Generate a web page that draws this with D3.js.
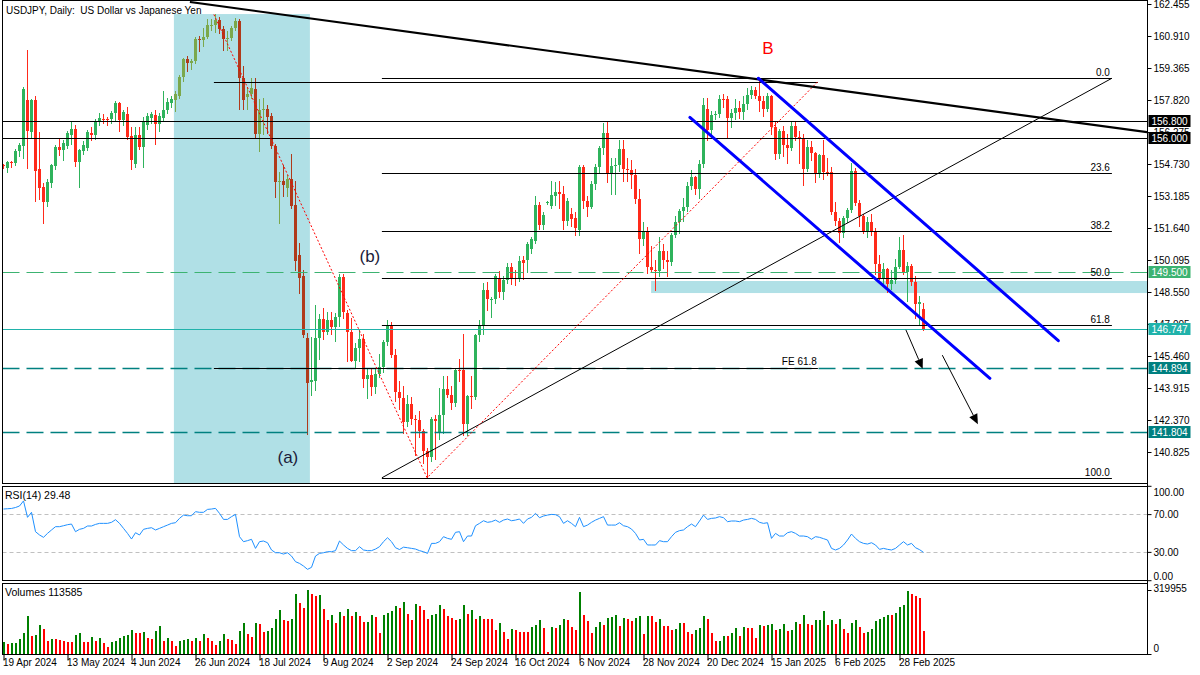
<!DOCTYPE html>
<html>
<head>
<meta charset="utf-8">
<script src="https://cdn.jsdelivr.net/npm/d3@7"></script>
<style>
  html, body { margin: 0; padding: 0; background: #fff; }
  svg { display: block; font-family: "Liberation Sans", Arial, sans-serif; }
  .pre { white-space: pre; }
</style>
</head>
<body>
<svg id="chart" width="1200" height="675"></svg>
<script>
// ---- data (daily bars, index 0 = 19 Apr 2024) ----
const opens = [
  154.66,154.52,154.84,154.79,155.35,155.62,157.82,156.29,157.82,154.49,
  153.64,152.91,153.83,154.65,155.53,155.40,155.60,156.13,156.42,154.84,
  155.37,155.52,156.24,156.13,156.79,156.90,156.92,156.89,157.18,157.67,
  156.85,157.14,156.10,154.75,156.11,155.57,156.60,156.95,157.10,156.66,
  156.95,157.33,157.68,157.83,158.03,158.95,159.78,159.60,159.70,160.75,
  160.70,160.85,161.45,161.45,161.70,161.25,160.75,160.80,161.30,161.65,
  158.90,157.95,158.10,158.35,156.18,157.35,157.37,157.05,155.60,153.87,
  153.92,153.55,154.00,152.75,150.33,149.30,146.35,144.20,144.25,146.35,
  147.25,146.60,147.20,146.85,147.35,149.29,147.55,146.60,145.20,145.85,
  146.30,144.35,144.55,143.95,144.60,144.95,146.15,146.90,145.50,143.70,
  143.45,142.25,143.15,142.40,142.35,141.85,140.85,140.60,142.40,141.80,
  142.60,143.85,143.60,143.20,144.80,144.78,142.20,143.55,143.50,146.45,
  146.90,148.65,148.20,148.20,149.25,148.55,149.15,149.75,149.25,149.25,
  150.10,150.09,150.65,151.00,152.75,151.78,152.88,152.72,153.20,153.36,
  153.30,152.00,152.30,152.12,151.54,154.60,152.95,152.65,153.75,154.60,
  155.50,156.25,154.30,154.65,154.70,155.45,154.50,154.45,154.20,153.05,
  151.10,151.50,149.75,149.60,149.55,150.55,150.10,150.00,151.30,151.95,
  152.45,152.65,153.65,154.10,153.50,154.75,157.40,156.35,157.10,157.15,
  157.85,157.85,156.95,157.20,157.45,157.25,157.65,158.05,158.30,158.00,
  157.75,157.40,158.00,156.50,155.20,156.30,155.65,155.50,156.55,156.05,
  156.00,154.50,155.55,155.25,154.30,155.15,154.35,154.32,152.40,152.00,
  151.40,152.10,152.50,154.40,152.85,152.20,151.45,151.95,151.45,149.90,
  149.25,149.65,148.95,149.15,149.75,150.60,149.50,149.80,149.05,147.95,
  147.75
];
const highs = [
  154.72,154.87,154.88,155.45,155.74,158.45,160.21,157.87,158.00,156.27,
  153.80,154.00,154.75,155.65,155.95,155.90,156.30,156.79,156.60,155.45,
  155.85,156.35,156.50,156.90,157.20,157.15,157.00,157.30,157.75,157.72,
  157.35,157.50,156.50,156.50,156.50,157.00,157.20,157.25,157.35,157.20,
  158.25,157.90,158.00,158.25,159.05,159.85,159.95,159.80,160.87,160.90,
  161.30,161.72,161.75,161.95,161.85,161.40,161.15,161.40,161.80,161.75,
  159.45,158.45,158.87,158.90,157.85,157.90,157.60,157.20,155.70,154.35,
  154.70,154.20,155.20,153.92,150.90,149.60,146.55,146.40,147.90,147.50,
  147.80,147.60,147.60,147.55,149.40,149.40,147.70,147.30,146.10,146.70,
  146.50,144.90,144.90,144.90,145.55,146.25,147.20,147.10,145.80,144.25,
  144.00,143.60,143.50,142.60,142.80,141.95,141.00,142.50,142.60,143.90,
  144.50,144.50,144.00,144.85,145.30,146.50,143.60,144.50,146.50,147.20,
  149.00,149.05,148.30,149.40,149.55,149.30,149.95,149.95,149.60,150.30,
  150.30,150.95,151.20,153.20,152.90,152.40,152.95,153.90,153.85,153.90,
  153.65,153.10,152.60,152.40,154.70,154.70,153.20,153.90,154.75,155.60,
  156.70,156.75,155.00,155.00,155.90,155.90,155.00,154.90,154.50,153.50,
  151.95,151.70,150.75,150.10,151.20,150.85,150.55,151.40,152.20,152.55,
  153.10,153.85,154.45,154.15,154.90,157.93,157.90,157.30,157.30,158.05,
  158.10,158.00,157.40,157.85,157.75,158.00,158.40,158.50,158.45,158.87,
  158.00,158.15,158.05,156.75,156.40,156.55,156.20,156.75,156.80,156.30,
  156.20,155.90,155.85,155.30,155.20,155.90,155.00,154.60,152.90,152.10,
  152.20,152.60,154.80,154.55,153.00,152.30,152.15,152.30,151.65,150.35,
  149.95,149.70,149.60,150.15,151.20,151.30,150.00,149.90,149.30,148.35,
  148.00
];
const lows = [
  154.55,154.36,154.60,154.70,155.10,155.00,154.53,156.05,152.96,153.05,
  151.86,152.72,153.60,154.50,155.15,154.90,155.50,155.70,154.63,153.60,
  155.20,155.40,155.90,155.95,156.60,156.70,156.60,156.70,156.85,156.34,
  156.60,155.95,154.50,154.60,155.45,154.60,156.40,156.70,155.70,156.30,
  156.85,157.20,157.50,157.30,157.90,158.75,159.20,159.30,159.60,160.20,
  160.45,160.80,161.20,161.10,161.05,160.25,160.25,160.70,161.20,157.40,
  157.40,157.40,157.90,156.00,155.37,156.20,156.24,155.50,153.12,151.90,
  153.20,153.20,152.60,149.60,148.50,146.40,141.68,143.60,143.80,145.30,
  146.30,146.50,146.50,146.20,146.90,147.30,145.20,145.20,144.95,145.20,
  143.95,143.45,143.60,143.65,144.45,144.70,146.00,145.40,143.30,142.90,
  141.75,142.10,142.20,140.70,141.55,140.30,139.58,140.40,140.47,141.45,
  141.75,143.50,142.90,143.05,144.25,141.65,141.65,142.95,143.40,146.20,
  146.50,147.70,147.35,148.00,148.30,148.20,149.00,148.95,148.90,149.10,
  149.20,149.50,150.45,150.90,151.60,151.60,152.80,152.60,152.75,152.60,
  151.60,151.80,151.75,151.30,151.30,152.60,152.20,152.60,153.50,154.30,
  155.20,153.85,153.30,153.30,154.40,153.90,153.90,153.55,152.85,150.45,
  150.80,149.45,149.50,148.65,149.30,149.70,149.30,149.85,151.20,151.40,
  152.00,152.45,153.50,153.30,153.10,154.60,155.90,156.10,156.90,157.00,
  157.50,156.00,156.50,156.90,156.95,156.90,157.40,157.90,157.90,157.30,
  157.05,157.30,156.20,154.95,155.00,155.10,154.80,155.40,155.90,154.80,
  153.70,154.40,154.90,153.85,154.10,154.00,154.20,152.30,151.80,150.95,
  151.20,151.95,152.40,152.75,151.75,151.40,151.20,151.30,149.40,149.20,
  149.00,148.55,148.70,149.00,149.70,149.40,148.10,148.90,147.30,146.95,
  146.70
];
const closes = [
  154.62,154.81,154.80,155.37,155.64,158.33,156.34,157.82,154.41,153.59,
  152.90,153.85,154.67,155.53,155.40,155.73,156.23,156.42,154.84,155.40,
  155.65,156.29,156.14,156.80,156.95,156.84,156.86,157.19,157.69,156.85,
  157.25,156.02,154.90,156.11,155.57,156.76,157.05,157.14,156.66,157.05,
  157.33,157.73,157.87,158.11,158.93,159.78,159.60,159.70,160.75,160.70,
  160.85,161.45,161.45,161.70,161.25,160.75,160.80,161.30,161.65,158.90,
  157.82,158.10,158.38,156.18,157.34,157.40,157.00,155.60,153.87,153.92,
  153.72,154.02,152.70,150.05,149.22,146.45,144.17,144.30,146.35,147.25,
  146.60,147.20,146.85,147.35,149.29,147.60,146.60,145.20,145.85,146.30,
  144.35,144.55,143.95,144.60,144.95,146.15,146.90,145.50,143.70,143.45,
  142.25,143.15,142.40,142.35,141.85,140.85,140.60,142.40,142.30,142.60,
  143.85,143.60,143.20,144.80,144.78,142.20,143.55,143.50,146.45,146.95,
  148.65,148.20,148.22,149.30,148.55,149.15,149.75,149.25,149.20,150.05,
  149.95,150.86,151.10,152.75,151.78,152.27,152.90,153.23,153.36,153.30,
  152.00,152.94,152.06,151.64,154.60,152.95,152.65,153.75,154.60,155.50,
  156.25,154.30,154.65,154.70,155.45,154.50,154.45,154.20,153.05,151.10,
  151.50,149.75,149.60,149.55,150.55,150.10,150.00,151.30,151.95,152.45,
  152.65,153.65,154.10,153.50,154.75,157.60,156.35,157.10,157.15,157.85,
  157.80,156.95,157.20,157.45,157.25,157.65,158.05,158.30,158.00,157.75,
  157.40,158.00,156.50,155.20,156.30,155.65,155.50,156.55,156.05,156.00,
  154.50,155.55,155.25,154.30,155.15,154.35,154.32,152.40,152.00,151.40,
  152.10,152.50,154.40,152.85,152.20,151.45,151.95,151.45,149.90,149.25,
  149.65,148.95,149.15,149.75,150.60,149.50,149.80,149.05,147.95,148.05,
  146.75
];
const rsiValues = [
  75.4,75.7,76.0,77.0,78.6,84.0,66.6,71.9,51.4,47.9,
  45.4,49.6,53.2,56.7,56.7,57.7,58.8,59.5,51.4,53.9,
  54.9,57.4,57.4,59.1,60.2,60.2,60.2,61.3,64.1,60.2,
  54.9,49.6,43.6,50.3,47.9,53.9,54.9,55.6,53.2,54.9,
  56.7,58.4,60.2,60.9,65.5,69.0,68.3,68.3,72.6,71.9,
  71.9,75.0,75.4,76.1,70.8,64.4,64.4,67.3,69.7,46.1,
  40.8,41.9,43.3,33.7,40.8,41.5,39.7,32.0,29.1,29.1,
  27.7,29.1,25.6,19.6,17.8,15.0,11.5,13.6,25.6,28.4,
  29.1,30.2,30.2,31.3,41.5,37.3,33.7,31.3,31.3,35.5,
  32.0,31.3,31.3,33.0,35.5,40.8,45.0,40.8,34.4,32.5,
  35.0,34.4,33.7,33.0,31.3,30.2,28.4,39.0,39.0,40.8,
  46.1,44.3,43.3,50.7,51.4,40.8,46.8,46.8,57.7,60.2,
  63.0,61.3,62.0,63.7,61.3,63.7,64.8,63.0,63.7,64.8,
  60.2,64.8,66.6,70.8,66.2,68.0,69.0,69.7,69.4,67.3,
  60.2,63.0,60.2,56.7,66.6,56.7,58.4,61.3,63.7,65.5,
  67.3,58.4,58.4,58.4,60.9,57.7,56.7,54.2,49.6,42.6,
  43.3,37.3,37.3,37.3,41.9,40.8,40.8,46.1,50.7,52.5,
  53.2,56.7,59.5,56.7,62.7,69.0,64.4,65.5,65.9,67.3,
  66.2,62.0,62.7,62.7,62.0,63.7,64.4,65.5,64.4,61.3,
  60.2,60.9,44.3,49.6,46.8,46.8,50.3,51.4,49.6,46.8,
  46.8,46.1,43.3,46.1,45.4,44.0,42.6,33.7,32.0,33.7,
  37.3,42.6,48.9,44.3,40.8,39.0,38.3,39.7,37.3,32.7,
  33.7,32.7,32.0,33.7,37.3,40.8,37.3,39.0,34.4,32.4,
  29.48
];
const volumes = [
  60000,52000,55000,55500,73000,104000,189000,90000,93000,145000,
  124000,67000,76000,73000,72000,67000,59000,58000,93000,104000,
  62000,59000,85000,64000,80000,54000,33000,59000,64000,81000,
  90000,93000,121000,104000,103000,111000,78000,73000,114000,142000,
  67000,78000,67000,38000,67000,68000,76000,66000,80000,67000,
  98000,78000,67000,46000,67000,98000,76000,70000,51000,114000,
  156000,99000,85000,154000,150000,111000,116000,129000,176000,218000,
  168000,163000,176000,302000,254000,232000,319955,302000,290000,293000,
  226000,171000,193000,155000,209000,188000,226000,188000,209000,188000,
  160000,162000,193000,186000,105000,193000,207000,214000,240000,230000,
  259000,202000,171000,248000,240000,218000,176000,197000,202000,245000,
  225000,190000,180000,171000,173000,245000,202000,219000,176000,188000,
  176000,176000,173000,121000,156000,111000,73000,124000,119000,111000,
  111000,111000,137000,147000,168000,129000,8000,137000,129000,145000,
  176000,168000,133000,119000,312000,197000,164000,104000,137000,159000,
  147000,181000,183000,197000,142000,180000,173000,164000,181000,188000,
  99000,190000,188000,159000,173000,142000,140000,121000,124000,154000,
  153000,112000,99000,119000,129000,188000,173000,107000,64000,65000,
  90000,89000,107000,128000,90000,137000,130000,129000,81000,145000,
  142000,143000,150000,121000,124000,150000,116000,119000,159000,150000,
  193000,150000,145000,168000,171000,214000,147000,171000,150000,176000,
  124000,107000,156000,168000,137000,104000,111000,124000,163000,176000,
  185000,197000,193000,207000,236000,245000,314000,302000,292000,280000,
  113585
];
const dateLabels = ["19 Apr 2024","13 May 2024","4 Jun 2024","26 Jun 2024","18 Jul 2024","9 Aug 2024",
  "2 Sep 2024","24 Sep 2024","16 Oct 2024","6 Nov 2024","28 Nov 2024","20 Dec 2024",
  "15 Jan 2025","6 Feb 2025","28 Feb 2025"];
const barsPerLabel = 16;
const priceTicks = [162.455,160.910,159.365,157.820,156.275,154.730,153.185,151.640,150.095,
  148.550,147.005,145.460,143.915,142.370,140.825];
const rsiTicks = [100, 70, 30, 0];
const rsiLevels = [70, 30];

// levels and drawn objects, in bar index / price terms
const supportResist = [156.800, 156.000];
const keyLevel = 149.500;
const lastPrice = 146.747;
const targets = [144.894, 141.804];
const fibAnchors = [[94.6, 139.58], [277.1, 158.87]];      // 100% -> 0%
const fibLevels = [0, 23.6, 38.2, 50.0, 61.8, 100];
const fePoints = [[52.6, 161.95], [105.9, 139.58], [203.6, 158.71]];
const feLevels = [0, 61.8];
const mainTrend = [[46.6, 162.55], [285.9, 156.27]];
const channelUpper = [[188.7, 158.87], [263.7, 146.20]];
const channelLower = [[171.6, 156.98], [246.6, 144.38]];
const shadeBars = [42.6, 76.6];
const shadeTop = 161.97;
const zoneBars = [161.9, 290];
const zonePrices = [149.08, 148.50];
const arrows = [[[225.6, 146.72], [229.8, 144.84]], [[234.7, 145.50], [243.6, 142.17]]];
const waveLabels = [["B", 191.1, 160.33], ["(b)", 91.6, 150.28], ["(a)", 71.1, 140.58]];

// ---- layout ----
const plotL = 2.5, plotR = 1147.5;
const main = {top: 0.5, bottom: 483.5};
const rsiP = {top: 486.5, bottom: 580.5};
const volP = {top: 583.5, bottom: 654.5};

const x = d3.scaleLinear().domain([0, 1]).range([3.5, 7.5]);
const y = d3.scaleLinear().domain([140.825, 162.455]).range([452, 4]);
const yR = d3.scaleLinear().domain([0, 100]).range([580.2, 485.8]);
const yV = d3.scaleLinear().domain([0, 319955]).range([654, 590]);
const crisp = v => Math.round(v) + 0.5;

const svg = d3.select("#chart");
const defs = svg.append("defs");
defs.append("clipPath").attr("id", "clipMain").append("rect")
  .attr("x", 3).attr("y", 1).attr("width", plotR - 3.5).attr("height", main.bottom - 1.5);
defs.append("clipPath").attr("id", "clipRsi").append("rect")
  .attr("x", 3).attr("y", rsiP.top + 0.5).attr("width", plotR - 3.5).attr("height", rsiP.bottom - rsiP.top - 1);

const gMain = svg.append("g").attr("clip-path", "url(#clipMain)");

// shaded rectangle + zone (background)
gMain.append("rect")
  .attr("x", x(shadeBars[0])).attr("width", x(shadeBars[1]) - x(shadeBars[0]))
  .attr("y", y(shadeTop)).attr("height", main.bottom - y(shadeTop))
  .attr("fill", "#b0e0e6");
gMain.append("rect")
  .attr("x", x(zoneBars[0])).attr("width", x(zoneBars[1]) - x(zoneBars[0]))
  .attr("y", y(zonePrices[0])).attr("height", y(zonePrices[1]) - y(zonePrices[0]))
  .attr("fill", "#b0e0e6");

// candles
const inShade = i => x(i) >= x(shadeBars[0]) && x(i) <= x(shadeBars[1]);
const candles = gMain.append("g").attr("shape-rendering", "crispEdges");
closes.forEach((c, i) => {
  const o = opens[i], up = c >= o;
  const col = inShade(i) ? (up ? "#7ba84c" : "#b03a1b") : (up ? "#2fb35c" : "#ff2a1a");
  const cx = x(i);
  candles.append("line")
    .attr("x1", cx).attr("x2", cx)
    .attr("y1", Math.round(y(highs[i]))).attr("y2", Math.round(y(lows[i])) + 1)
    .attr("stroke", col).attr("stroke-width", 1);
  const yt = Math.round(y(Math.max(o, c))), yb = Math.round(y(Math.min(o, c)));
  candles.append("rect")
    .attr("x", cx - 1.5).attr("width", 3)
    .attr("y", yt).attr("height", Math.max(1, yb - yt))
    .attr("fill", col);
});

// horizontal levels
supportResist.forEach(p => {
  gMain.append("line").attr("x1", plotL).attr("x2", plotR)
    .attr("y1", crisp(y(p))).attr("y2", crisp(y(p)))
    .attr("stroke", "#000").attr("stroke-width", 1);
});
gMain.append("line").attr("x1", plotL).attr("x2", plotR)
  .attr("y1", crisp(y(keyLevel))).attr("y2", crisp(y(keyLevel)))
  .attr("stroke", "#3cb371").attr("stroke-dasharray", "17,7");
gMain.append("line").attr("x1", plotL).attr("x2", plotR)
  .attr("y1", crisp(y(lastPrice))).attr("y2", crisp(y(lastPrice)))
  .attr("stroke", "#20b2aa");
targets.forEach(p => {
  gMain.append("line").attr("x1", plotL).attr("x2", plotR)
    .attr("y1", crisp(y(p))).attr("y2", crisp(y(p)))
    .attr("stroke", "#008080").attr("stroke-width", 1.3).attr("stroke-dasharray", "17,7");
});

// Fibonacci retracement
const fibRange = fibAnchors[1][1] - fibAnchors[0][1];
fibLevels.forEach(lv => {
  const p = fibAnchors[1][1] - fibRange * lv / 100;
  const yy = crisp(y(p));
  gMain.append("line").attr("x1", x(fibAnchors[0][0])).attr("x2", x(fibAnchors[1][0]))
    .attr("y1", yy).attr("y2", yy).attr("stroke", "#000");
  gMain.append("text").attr("x", x(fibAnchors[1][0]) - 2).attr("y", yy - 3)
    .attr("text-anchor", "end").attr("font-size", 10).attr("fill", "#000")
    .text(lv.toFixed(1));
});
gMain.append("line")
  .attr("x1", x(fibAnchors[0][0])).attr("y1", y(fibAnchors[0][1]))
  .attr("x2", x(fibAnchors[1][0])).attr("y2", y(fibAnchors[1][1]))
  .attr("stroke", "#000").attr("stroke-width", 1);

// Fibonacci expansion
const feSize = fePoints[0][1] - fePoints[1][1];
feLevels.forEach(lv => {
  const p = fePoints[2][1] - feSize * lv / 100;
  const yy = crisp(y(p));
  gMain.append("line").attr("x1", x(fePoints[0][0])).attr("x2", x(fePoints[2][0]))
    .attr("y1", yy).attr("y2", yy).attr("stroke", "#000");
  if (lv > 0) {
    gMain.append("text").attr("x", x(fePoints[2][0]) - 1).attr("y", yy - 4)
      .attr("text-anchor", "end").attr("font-size", 10).attr("fill", "#000")
      .text("FE " + lv.toFixed(1));
  }
});
gMain.append("path")
  .attr("d", d3.line().x(d => x(d[0])).y(d => y(d[1]))(fePoints))
  .attr("fill", "none").attr("stroke", "#ff0000").attr("stroke-width", 1)
  .attr("stroke-dasharray", "2,2");

// trend lines
const toPx = pts => pts.map(d => [x(d[0]), y(d[1])]);
const mt = toPx(mainTrend);
gMain.append("line").attr("x1", mt[0][0]).attr("y1", mt[0][1]).attr("x2", mt[1][0]).attr("y2", mt[1][1])
  .attr("stroke", "#000").attr("stroke-width", 2.2);
[channelUpper, channelLower].forEach(ch => {
  const l = toPx(ch);
  gMain.append("line").attr("x1", l[0][0]).attr("y1", l[0][1]).attr("x2", l[1][0]).attr("y2", l[1][1])
    .attr("stroke", "#0000ff").attr("stroke-width", 3).attr("stroke-linecap", "round");
});

// arrows
arrows.forEach(([a, b]) => {
  const x0 = x(a[0]), y0 = y(a[1]), x1 = x(b[0]), y1 = y(b[1]);
  const ang = Math.atan2(y1 - y0, x1 - x0), len = 10, hw = 4.5;
  const bx = x1 - len * Math.cos(ang), by = y1 - len * Math.sin(ang);
  gMain.append("line").attr("x1", x0).attr("y1", y0).attr("x2", bx).attr("y2", by)
    .attr("stroke", "#000").attr("stroke-width", 1);
  gMain.append("polygon")
    .attr("points", [[x1, y1], [bx + hw * Math.sin(ang), by - hw * Math.cos(ang)],
      [bx - hw * Math.sin(ang), by + hw * Math.cos(ang)]].map(p => p.join(",")).join(" "))
    .attr("fill", "#000");
});

// wave labels
waveLabels.forEach(([t, b, p]) => {
  gMain.append("text").attr("x", x(b)).attr("y", y(p)).attr("dy", "0.35em")
    .attr("text-anchor", "middle").attr("font-size", 17)
    .attr("fill", t === "B" ? "#ff0000" : "#1b1b3a").text(t);
});

// title
svg.append("text").attr("class", "pre").attr("x", 6).attr("y", 14).attr("font-size", 10).attr("fill", "#000")
  .text("USDJPY, Daily:  US Dollar vs Japanese Yen");

// ---- RSI panel ----
const gR = svg.append("g");
rsiLevels.forEach(v => {
  gR.append("line").attr("x1", plotL).attr("x2", plotR)
    .attr("y1", crisp(yR(v))).attr("y2", crisp(yR(v)))
    .attr("stroke", "#c0c0c0").attr("stroke-dasharray", "4,3");
});
gR.append("path").attr("clip-path", "url(#clipRsi)")
  .attr("d", d3.line().x((d, i) => x(i)).y(d => yR(d))(rsiValues))
  .attr("fill", "none").attr("stroke", "#1e90ff").attr("stroke-width", 1);
svg.append("text").attr("x", 5).attr("y", 499).attr("font-size", 10.5).attr("fill", "#000")
  .text("RSI(14) " + rsiValues[rsiValues.length - 1].toFixed(2));

// ---- volume panel ----
const gV = svg.append("g").attr("shape-rendering", "crispEdges");
volumes.forEach((v, i) => {
  const up = i === 0 || v > volumes[i - 1];
  gV.append("rect").attr("x", x(i) - 1).attr("width", 2)
    .attr("y", yV(v)).attr("height", yV(0) - yV(v))
    .attr("fill", up ? "#008000" : "#ff0000");
});
svg.append("text").attr("x", 5).attr("y", 596).attr("font-size", 10.5).attr("fill", "#000")
  .text("Volumes " + volumes[volumes.length - 1]);

// ---- frames ----
const frames = svg.append("g").attr("fill", "none").attr("stroke", "#000").attr("shape-rendering", "crispEdges");
[main, rsiP, volP].forEach(p => {
  frames.append("rect").attr("x", plotL).attr("y", p.top)
    .attr("width", plotR - plotL).attr("height", p.bottom - p.top);
});

// ---- axes ----
const axisFont = g => g.selectAll("text").attr("font-size", 10).attr("font-family", "Liberation Sans, Arial, sans-serif").attr("fill", "#000");
svg.append("g").attr("transform", `translate(${plotR},0)`)
  .call(d3.axisRight(y).tickValues(priceTicks).tickFormat(d3.format(".3f")).tickSize(4).tickPadding(2))
  .call(g => g.select(".domain").remove())
  .call(axisFont);

svg.append("g").attr("transform", `translate(${plotR},0)`)
  .call(d3.axisRight(yR).tickValues(rsiTicks).tickFormat(d3.format(".2f")).tickSize(4).tickPadding(2))
  .call(g => g.select(".domain").remove())
  .call(axisFont)
  .call(g => g.selectAll(".tick text").attr("dy", d => d === 100 ? "0.95em" : d === 0 ? "-0.1em" : "0.32em"));

svg.append("g").attr("transform", `translate(${plotR},0)`)
  .call(d3.axisRight(yV).tickValues([319955, 0]).tickFormat(d3.format("d")).tickSize(4).tickPadding(2))
  .call(g => g.select(".domain").remove())
  .call(axisFont)
  .call(g => g.selectAll(".tick text").attr("dy", d => d === 0 ? "-0.3em" : "0.1em"));

svg.append("g").attr("transform", `translate(0,${volP.bottom})`)
  .call(d3.axisBottom(x).tickValues(dateLabels.map((d, k) => k * barsPerLabel))
    .tickFormat((d, k) => dateLabels[k]).tickSize(6).tickPadding(-2))
  .call(g => g.select(".domain").remove())
  .call(axisFont)
  .call(g => g.selectAll(".tick text").attr("text-anchor", "start").attr("x", -1).attr("font-size", 10));

// right scale line
svg.append("line").attr("x1", plotR).attr("x2", plotR).attr("y1", 0).attr("y2", volP.bottom)
  .attr("stroke", "#000").attr("shape-rendering", "crispEdges");

// ---- highlighted price labels ----
const tags = [
  [supportResist[0], "#000000"], [supportResist[1], "#000000"], [keyLevel, "#3cb371"],
  [lastPrice, "#20b2aa"], [targets[0], "#008080"], [targets[1], "#008080"]
];
const tagG = svg.append("g");
tags.forEach(([p, col]) => {
  const yy = Math.round(y(p));
  tagG.append("rect").attr("x", plotR + 1).attr("y", yy - 6).attr("width", 42).attr("height", 12)
    .attr("fill", col);
  tagG.append("text").attr("x", plotR + 4).attr("y", yy).attr("dy", "0.35em")
    .attr("font-size", 10).attr("fill", "#fff").text(p.toFixed(3));
});
</script>
</body>
</html>
